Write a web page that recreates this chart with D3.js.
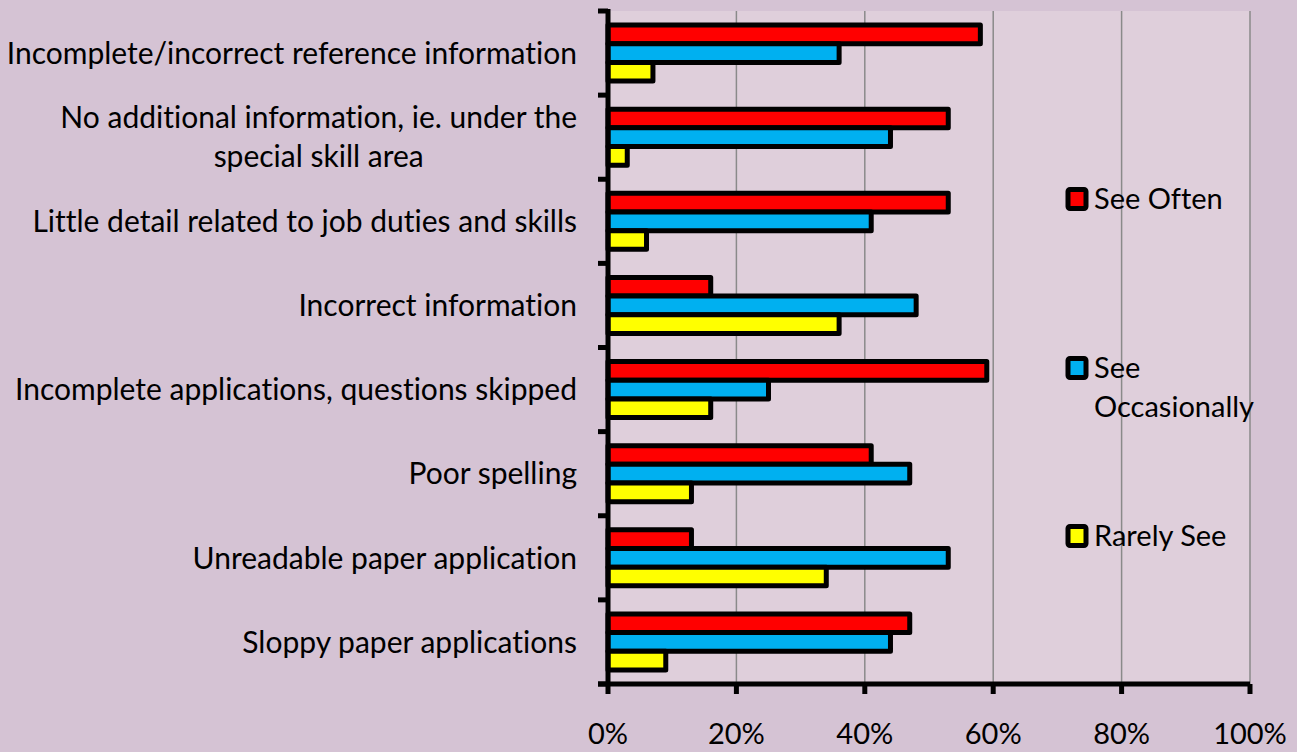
<!DOCTYPE html>
<html><head><meta charset="utf-8">
<script src="https://cdn.jsdelivr.net/npm/d3@7"></script>
<style>html,body{margin:0;padding:0;background:#d5c3d4;}svg{display:block;} text{font-variant-ligatures:none;font-feature-settings:"liga" 0;}</style>
</head><body>
<svg id="chart" width="1297" height="752"></svg>
<script>
const categories = [
  "Incomplete/incorrect reference information",
  "No additional information, ie. under the|special skill area",
  "Little detail related to job duties and skills",
  "Incorrect information",
  "Incomplete applications, questions skipped",
  "Poor spelling",
  "Unreadable paper application",
  "Sloppy paper applications"
];
const seriesNames = ["See Often", "See Occasionally", "Rarely See"];
const seeOften =        [58, 53, 53, 16, 59, 41, 13, 47];
const seeOccasionally = [36, 44, 41, 48, 25, 47, 53, 44];
const rarelySee =       [7, 3, 6, 36, 16, 13, 34, 9];
const seriesColors = ["#ff0000", "#00b0f0", "#ffff00"];
const xTicks = [0, 20, 40, 60, 80, 100];
const xTickLabels = ["0%", "20%", "40%", "60%", "80%", "100%"];

(function () {
const seriesValues = [seeOften, seeOccasionally, rarelySee];
const svg = d3.select("#chart");
const W = 1297, H = 752;
svg.append("rect").attr("width", W).attr("height", H).attr("fill", "#d5c3d4");

const pLeft = 608, pRight = 1250, pTop = 11, pBottom = 684;
const x = d3.scaleLinear().domain([0, 100]).range([pLeft, pRight]);
const y = d3.scaleBand().domain(d3.range(categories.length)).range([pTop, pBottom]).padding(0);
const sub = d3.scaleBand().domain(d3.range(seriesNames.length)).range([0, y.bandwidth()]).paddingInner(0).paddingOuter(0.75);

const font = "Lato, 'Open Sans', sans-serif";
const fs = 30;

svg.append("rect").attr("x", pLeft).attr("y", pTop).attr("width", pRight - pLeft).attr("height", pBottom - pTop).attr("fill", "#dfcfdb");

svg.append("g").selectAll("line").data(xTicks.slice(1)).join("line")
  .attr("x1", d => x(d)).attr("x2", d => x(d)).attr("y1", pTop).attr("y2", pBottom)
  .attr("stroke", "#8a8a8a").attr("stroke-width", 1.5);

const groups = svg.append("g").selectAll("g").data(categories).join("g")
  .attr("transform", (d, i) => `translate(0,${y(i)})`);
groups.selectAll("rect").data((d, i) => seriesValues.map((s, k) => ({k, v: s[i]}))).join("rect")
  .attr("x", x(0)).attr("y", d => sub(d.k)).attr("width", d => x(d.v) - x(0)).attr("height", sub.bandwidth())
  .attr("fill", d => seriesColors[d.k]).attr("stroke", "#000").attr("stroke-width", 5)
  .attr("stroke-linejoin", "round");

const yAxisG = svg.append("g");
yAxisG.append("line").attr("x1", pLeft).attr("x2", pLeft).attr("y1", pTop - 2).attr("y2", pBottom + 2)
  .attr("stroke", "#000").attr("stroke-width", 5);
yAxisG.selectAll("line.tick").data(d3.range(categories.length + 1)).join("line").attr("class", "tick")
  .attr("x1", pLeft - 10).attr("x2", pLeft).attr("y1", i => pTop + i * y.step()).attr("y2", i => pTop + i * y.step())
  .attr("stroke", "#000").attr("stroke-width", 5);

const xAxisG = svg.append("g");
xAxisG.append("line").attr("x1", pLeft - 10).attr("x2", pRight).attr("y1", pBottom).attr("y2", pBottom)
  .attr("stroke", "#000").attr("stroke-width", 5);
xAxisG.selectAll("line.tick").data(xTicks).join("line").attr("class", "tick")
  .attr("x1", d => x(d)).attr("x2", d => x(d)).attr("y1", pBottom).attr("y2", pBottom + 10)
  .attr("stroke", "#000").attr("stroke-width", 5);
xAxisG.selectAll("text").data(xTicks).join("text")
  .attr("x", d => x(d)).attr("y", 734).attr("dy", "0.36em").attr("text-anchor", "middle")
  .attr("font-family", font).attr("font-size", 29).attr("fill", "#000")
  .text((d, i) => xTickLabels[i]);

const labG = svg.append("g");
categories.forEach((c, i) => {
  const lines = c.split("|");
  const cy = y(i) + y.bandwidth() / 2;
  const lh = 39;
  const t = labG.append("text").attr("text-anchor", "middle")
    .attr("font-family", font).attr("font-size", fs).attr("fill", "#000");
  lines.forEach((ln, j) => {
    t.append("tspan").attr("x", 0).attr("y", cy + (j - (lines.length - 1) / 2) * lh).attr("dy", "0.36em").text(ln);
  });
  const bb = t.node().getBBox();
  t.attr("transform", `translate(${577 - bb.width / 2},0)`);
});

const legend = [
  {k: 0, cy: 199, lines: ["See Often"]},
  {k: 1, cy: 368, lines: ["See", "Occasionally"]},
  {k: 2, cy: 536, lines: ["Rarely See"]}
];
const lg = svg.append("g");
legend.forEach(l => {
  lg.append("rect").attr("x", 1068).attr("y", l.cy - 9.5).attr("width", 18).attr("height", 19).attr("rx", 2)
    .attr("fill", seriesColors[l.k]).attr("stroke", "#000").attr("stroke-width", 5);
  const t = lg.append("text").attr("font-family", font).attr("font-size", 29).attr("fill", "#000");
  l.lines.forEach((ln, j) => {
    t.append("tspan").attr("x", 1094).attr("y", l.cy + j * 39).attr("dy", "0.36em").text(ln);
  });
});
})();
</script>
</body></html>
